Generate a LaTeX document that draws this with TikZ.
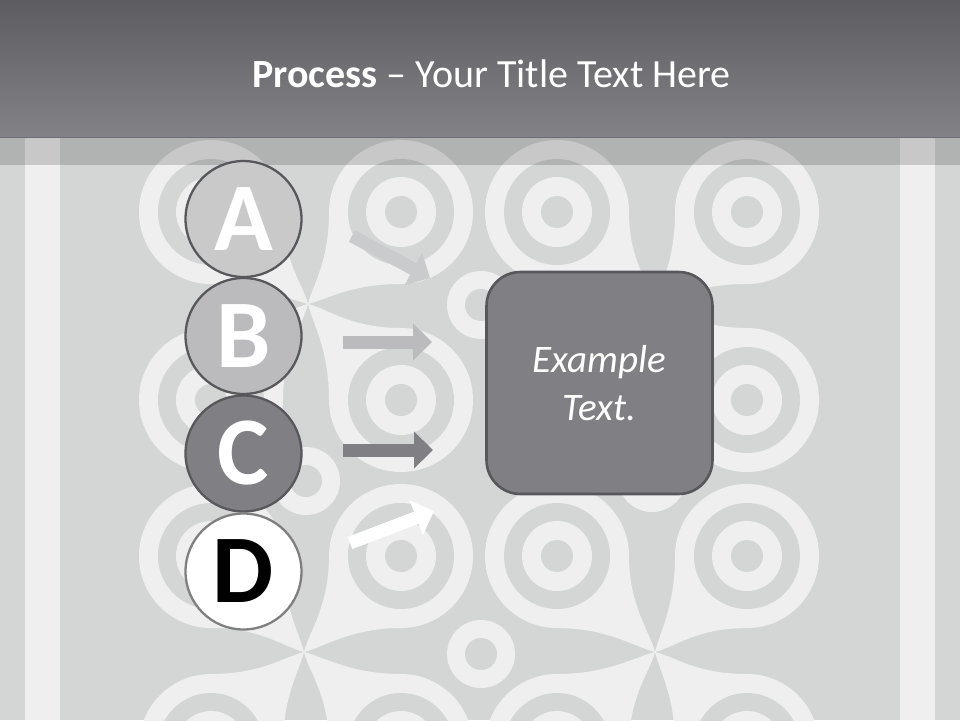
\documentclass[tikz,border=0pt]{standalone}
\usepackage{fontspec}
\setmainfont{Carlito}
\usetikzlibrary{arrows.meta,calc}
\definecolor{bggray}{HTML}{D4D5D5}
\definecolor{patwhite}{HTML}{EFEFEF}
\definecolor{hdtop}{HTML}{5D5D61}
\definecolor{hdbot}{HTML}{838387}
\definecolor{cA}{HTML}{C9C9CA}
\definecolor{cB}{HTML}{BBBBBD}
\definecolor{cC}{HTML}{808084}
\definecolor{edgegray}{HTML}{58585C}
\definecolor{edgeD}{HTML}{7F7F7F}
\definecolor{arrA}{HTML}{CACBCC}
% teardrop ring: cx cy px py sx sy
\newcommand\tdrop[6]{%
  \fill[patwhite] (#1,#2) circle[radius=72pt];
  \fill[patwhite] ({#1+(#5)*72},#2) .. controls ({#1+(#5)*72},{#2+(#6)*50}) and ({#3-(#5)*5},{#4-(#6)*20}) .. (#3,#4)
     .. controls ({#3-(#5)*20},{#4-(#6)*5}) and ({#1+(#5)*50},{#2+(#6)*72}) .. (#1,{#2+(#6)*72}) -- (#1,#2) -- cycle;
}
\newcommand\ringin[2]{%
  \fill[bggray] (#1,#2) circle[radius=53pt];
  \fill[patwhite] (#1,#2) circle[radius=35pt];
  \fill[bggray] (#1,#2) circle[radius=16pt];
}
\newcommand\smallring[2]{%
  \fill[patwhite] (#1,#2) circle[radius=34pt];
  \fill[bggray] (#1,#2) circle[radius=16pt];
}
\tikzset{
  letter/.style={circle, line width=2.3pt, draw=edgegray, minimum size=116pt, inner sep=0pt,
    text=white, font=\fontsize{97}{97}\selectfont\bfseries},
  blockarrow/.style={line width=13pt, -{Triangle[length=19pt, width=36pt]}},
  textbox/.style={draw=edgegray, line width=2.6pt, fill=cC, rounded corners=34pt,
    minimum width=226pt, minimum height=222pt, inner sep=0pt, align=center, text=white,
    font=\fontsize{39}{48}\selectfont\itshape}
}
\begin{document}
\begin{tikzpicture}[x=1pt,y=-1pt]
\useasboundingbox (0,0) rectangle (960,720);
\fill[bggray] (0,0) rectangle (960,720);
% stripes
\fill[patwhite] (25,137) rectangle (60,720);
\fill[patwhite] (900,137) rectangle (935,720);
% pattern teardrops
\tdrop{211}{212}{308}{304}{1}{1}
\tdrop{401}{212}{308}{304}{-1}{1}
\tdrop{211}{400}{308}{304}{1}{-1}
\tdrop{401}{400}{308}{304}{-1}{-1}
\tdrop{557}{212}{655}{304}{1}{1}
\tdrop{747}{212}{655}{304}{-1}{1}
\tdrop{557}{400}{655}{304}{1}{-1}
\tdrop{747}{400}{655}{304}{-1}{-1}
\tdrop{211}{556}{304}{652}{1}{1}
\tdrop{401}{556}{304}{652}{-1}{1}
\tdrop{211}{746}{304}{652}{1}{-1}
\tdrop{401}{746}{304}{652}{-1}{-1}
\tdrop{557}{556}{655}{652}{1}{1}
\tdrop{747}{556}{655}{652}{-1}{1}
\tdrop{557}{746}{655}{652}{1}{-1}
\tdrop{747}{746}{655}{652}{-1}{-1}
\foreach \cx in {211,401,557,747}{\foreach \cy in {212,400,556,746}{\ringin{\cx}{\cy}}}
\smallring{481}{305}
\smallring{306}{481}
\smallring{652}{478}
\smallring{481}{654}
% header
\shade[top color=hdtop, bottom color=hdbot] (0,0) rectangle (960,137);
\fill[black, opacity=0.16] (0,137) rectangle (960,165);
\node[anchor=base, text=white, font=\fontsize{40}{48}\selectfont, inner sep=0pt] (title) at (491.5,87) {\textbf{Process} – Your Title Text Here};
% letter circles
\node[letter, fill=cA] (A) at (243.5,219) {A};
\node[letter, fill=cB] (B) at (243.5,336) {B};
\node[letter, fill=cC] (C) at (243.5,453.5) {C};
\node[letter, fill=white, draw=edgeD, text=black] (D) at (243.5,571.5) {D};
% box
\node[textbox] (box) at (599.5,383) {Example\\Text.};
% arrows
\coordinate (a1s) at (352,236); \coordinate (a1e) at (430,278);
\coordinate (a2s) at (343,342); \coordinate (a2e) at (432,342);
\coordinate (a3s) at (343,450); \coordinate (a3e) at (433,450);
\coordinate (a4s) at (350,543); \coordinate (a4e) at (434,511);
\draw[blockarrow, draw=arrA, fill=arrA] (a1s) -- (a1e);
\draw[blockarrow, draw=cB, fill=cB] (a2s) -- (a2e);
\draw[blockarrow, draw=cC, fill=cC] (a3s) -- (a3e);
\draw[blockarrow, draw=white, fill=white] (a4s) -- (a4e);
\end{tikzpicture}
\end{document}
